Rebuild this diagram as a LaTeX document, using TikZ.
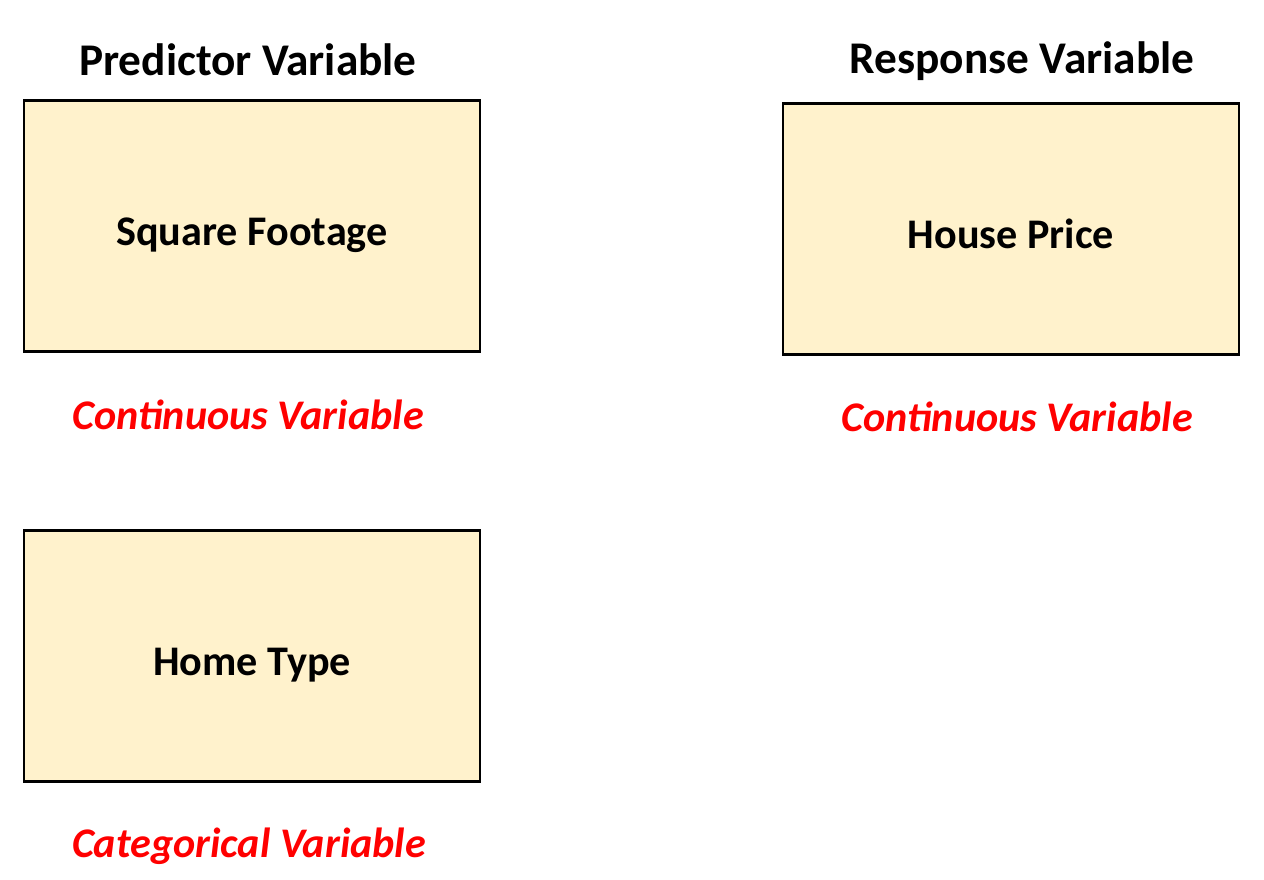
\documentclass[tikz,border=0pt]{standalone}
\usepackage{fontspec}
\setmainfont{Carlito}
\usepackage{tikz}
\usetikzlibrary{positioning}
\definecolor{boxfill}{RGB}{255,242,204}
\definecolor{typered}{RGB}{255,0,0}

\begin{document}
\begin{tikzpicture}[x=0.02cm,y=-0.02cm,every node/.style={font=\fontsize{24}{28}\selectfont\bfseries},vartitle/.style={font=\fontsize{25.8}{30}\selectfont\bfseries},varbox/.style={draw=black,line width=1.4pt,fill=boxfill,minimum width=9.12cm,minimum height=5.02cm,inner sep=0pt,text height=22pt,text depth=0pt},vartype/.style={text=typered,font=\fontsize{24}{28}\selectfont\bfseries\itshape}]
  \useasboundingbox (0,0) rectangle (1264,879);
  % predictors
  \node[vartitle] (predtitle) at (248,60) {Predictor Variable};
  \node[varbox] (sqft) at (252,226) {Square Footage};
  \node[vartype] (sqfttype) at (248,415) {Continuous Variable};
  \node[varbox] (hometype) at (252,656) {Home Type};
  \node[vartype] (hometypetype) at (249,846) {Categorical Variable};
  % response
  \node[vartitle] (resptitle) at (1022,61) {Response Variable};
  \node[varbox] (price) at (1011,229) {House Price};
  \node[vartype] (pricetype) at (1017,417) {Continuous Variable};
\end{tikzpicture}
\end{document}
